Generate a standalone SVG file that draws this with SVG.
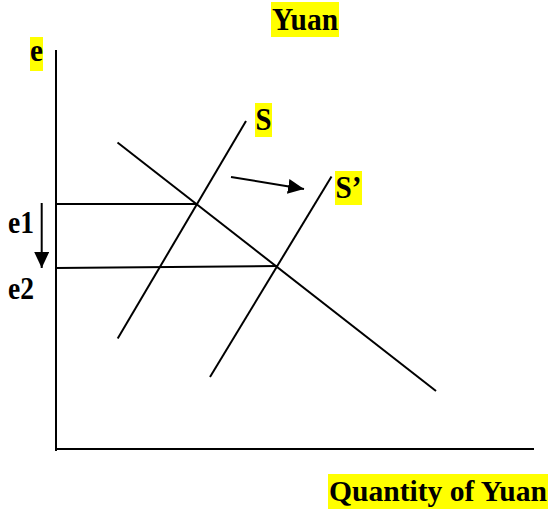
<svg xmlns="http://www.w3.org/2000/svg" width="556" height="518" viewBox="0 0 556 518">
<style>
.t{font-family:"Liberation Serif","Times New Roman",serif;font-weight:bold;font-size:31px;fill:#000}
.hl{fill:#ffff00}
.ln{stroke:#000;stroke-width:2;fill:none}
</style>
<defs>
<marker id="ah2" viewBox="0 0 16 15" refX="16" refY="7.5" markerWidth="16" markerHeight="15" orient="auto" markerUnits="userSpaceOnUse">
<path d="M0,0 L16,7.5 L0,15 Z" fill="#000"/>
</marker>
</defs>
<rect width="556" height="518" fill="#fff"/>
<g id="axes">
<line class="ln" x1="56" y1="50" x2="56" y2="451"/>
<line class="ln" x1="56" y1="449" x2="534" y2="449"/>
</g>
<g id="connectors">
<line class="ln" x1="117.5" y1="142.5" x2="436" y2="391"/>
<line class="ln" x1="117.7" y1="338.5" x2="246" y2="121"/>
<line class="ln" x1="210" y1="377" x2="331.5" y2="176.5"/>
<line class="ln" x1="56" y1="204" x2="197" y2="204"/>
<line class="ln" x1="56" y1="268" x2="277" y2="266"/>
<line class="ln" x1="231" y1="177" x2="304" y2="189" marker-end="url(#ah2)"/>
<line class="ln" x1="41.7" y1="203" x2="41.7" y2="268" marker-end="url(#ah2)"/>
</g>
<g id="title">
<rect class="hl" x="271" y="2" width="68" height="35"/>
<text class="t" x="272" y="30" textLength="66" lengthAdjust="spacingAndGlyphs">Yuan</text>
</g>
<g id="label-e">
<rect class="hl" x="30" y="37" width="13" height="34"/>
<text class="t" x="30" y="61" textLength="13" lengthAdjust="spacingAndGlyphs">e</text>
</g>
<g id="label-e1">
<text class="t" x="8" y="233" textLength="26" lengthAdjust="spacingAndGlyphs">e1</text>
</g>
<g id="label-e2">
<text class="t" x="8" y="299" textLength="26" lengthAdjust="spacingAndGlyphs">e2</text>
</g>
<g id="label-S">
<rect class="hl" x="255" y="103" width="17" height="34"/>
<text class="t" x="255.5" y="130" textLength="16" lengthAdjust="spacingAndGlyphs">S</text>
</g>
<g id="label-S2">
<rect class="hl" x="335" y="171" width="27" height="34"/>
<text class="t" x="335.5" y="198" textLength="26" lengthAdjust="spacingAndGlyphs">S’</text>
</g>
<g id="label-q">
<rect class="hl" x="328" y="474" width="220" height="35"/>
<text class="t" x="329" y="501" textLength="218" lengthAdjust="spacingAndGlyphs" style="font-size:30px">Quantity of Yuan</text>
</g>
</svg>
